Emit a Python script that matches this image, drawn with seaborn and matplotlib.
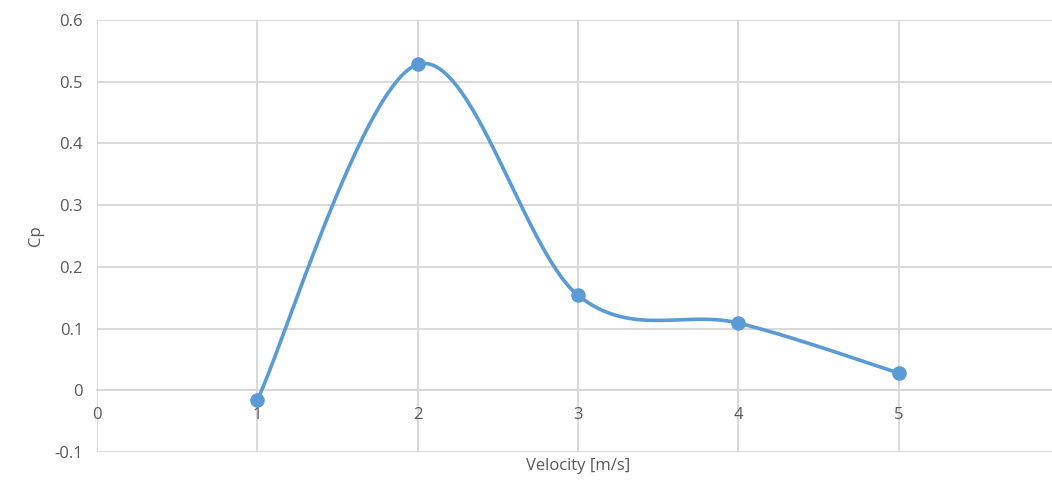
import numpy as np
import pandas as pd
import matplotlib
matplotlib.use("Agg")
import matplotlib.pyplot as plt
import seaborn as sns

# Data
velocity = [1, 2, 3, 4, 5]
cp = [-0.016, 0.528, 0.154, 0.109, 0.028]
x_ticks = [0, 1, 2, 3, 4, 5]
y_ticks = [-0.1, 0, 0.1, 0.2, 0.3, 0.4, 0.5, 0.6]


def excel_smooth(xs, ys, n=60):
    """Excel-style smoothed line (Catmull-Rom as cubic Bezier)."""
    xs = np.asarray(xs, float)
    ys = np.asarray(ys, float)
    px = np.concatenate([[xs[0]], xs, [xs[-1]]])
    py = np.concatenate([[ys[0]], ys, [ys[-1]]])
    outx, outy = [], []
    t = np.linspace(0, 1, n)
    for i in range(1, len(px) - 2):
        p0 = np.array([px[i], py[i]])
        p3 = np.array([px[i + 1], py[i + 1]])
        c1 = p0 + (np.array([px[i + 1], py[i + 1]]) - np.array([px[i - 1], py[i - 1]])) / 6
        c2 = p3 - (np.array([px[i + 2], py[i + 2]]) - np.array([px[i], py[i]])) / 6
        b = ((1 - t) ** 3)[:, None] * p0 + (3 * (1 - t) ** 2 * t)[:, None] * c1 \
            + (3 * (1 - t) * t ** 2)[:, None] * c2 + (t ** 3)[:, None] * p3
        outx.extend(b[:, 0])
        outy.extend(b[:, 1])
    return np.array(outx), np.array(outy)


sns.set_theme(style="white")
plt.rcParams['font.family'] = ['Open Sans', 'DejaVu Sans']

text_color = "#595959"
grid_color = "#d9d9d9"
line_color = "#5B9BD5"

fig = plt.figure(figsize=(10.52, 4.84), dpi=100)
ax = fig.add_axes([97 / 1052, 32 / 484, (6 * 160.3) / 1052, 432 / 484])

sx, sy = excel_smooth(velocity, cp)
smooth_df = pd.DataFrame({"Velocity": sx, "Cp": sy})
pts_df = pd.DataFrame({"Velocity": velocity, "Cp": cp})

sns.lineplot(data=smooth_df, x="Velocity", y="Cp", ax=ax, color=line_color,
             linewidth=2.6, sort=False, estimator=None, zorder=3)
sns.scatterplot(data=pts_df, x="Velocity", y="Cp", ax=ax, color=line_color,
                s=110, edgecolor=line_color, linewidth=0, zorder=4)

ax.set_xlim(0, 6)
ax.set_ylim(-0.1, 0.6)
ax.set_xticks(x_ticks)
ax.set_xticklabels([str(v) for v in x_ticks])
ax.set_yticks(y_ticks)
ax.set_yticklabels([f"{v:g}" for v in y_ticks])

ax.grid(True, color=grid_color, linewidth=1.4)
ax.set_axisbelow(True)

for s in ["top", "right", "left"]:
    ax.spines[s].set_visible(False)
ax.spines["bottom"].set_position(("data", 0))
ax.spines["bottom"].set_color(grid_color)
ax.spines["bottom"].set_linewidth(1.4)

ax.tick_params(axis="both", length=0, colors=text_color, labelsize=12)
ax.tick_params(axis="x", pad=12)
ax.tick_params(axis="y", pad=10)

ax.set_xlabel("Velocity [m/s]", color=text_color, fontsize=12)
ax.xaxis.set_label_coords(0.5, -0.015)
ax.set_ylabel("Cp", color=text_color, fontsize=12)
ax.yaxis.set_label_coords(-0.055, 0.5)

fig.savefig("out.png", dpi=100)
